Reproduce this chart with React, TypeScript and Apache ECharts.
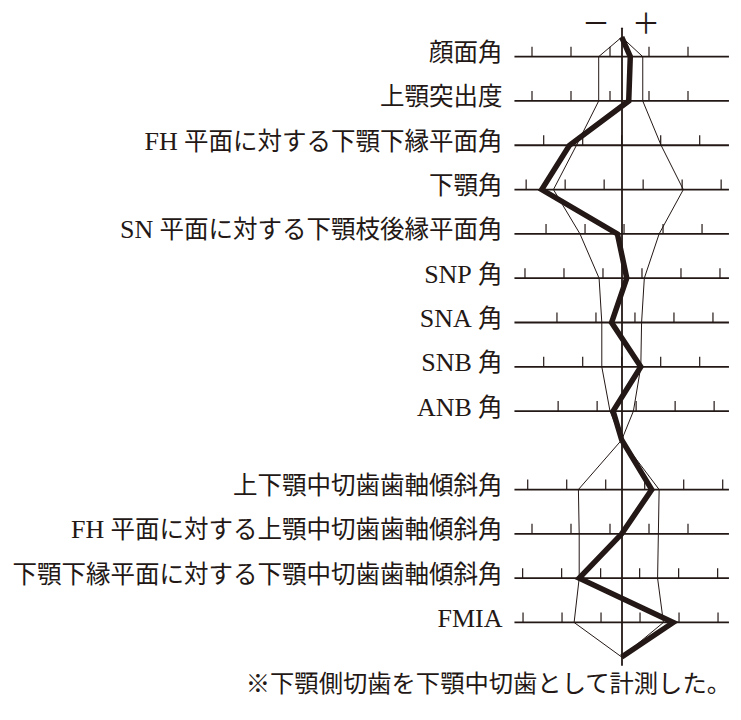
import React, { useEffect, useRef } from "react";
import * as echarts from "echarts";

// row labels, top to bottom
const labels = [
  "顔面角",
  "上顎突出度",
  "FH 平面に対する下顎下縁平面角",
  "下顎角",
  "SN 平面に対する下顎枝後縁平面角",
  "SNP 角",
  "SNA 角",
  "SNB 角",
  "ANB 角",
  "上下顎中切歯歯軸傾斜角",
  "FH 平面に対する上顎中切歯歯軸傾斜角",
  "下顎下縁平面に対する下顎中切歯歯軸傾斜角",
  "FMIA",
];

// row index along the chart (gap between skeletal and dental groups)
const rowPos = [0, 1, 2, 3, 4, 5, 6, 7, 8, 9.77, 10.77, 11.77, 12.77];
// where the polygons meet the centre line: top, between groups, bottom
const apexPos = [-0.44, 8.65, 13.55];

// deviation from the norm (1 tick = 5 units)
const tickPhase = [3.5, 3.5, 0, 2.75, 0.3, 2.6, 1.7, 0, 1.85, 2.95, 3.5, 2.3, 2.35];
const patient = [1.1, 0.9, -6.7, -10.25, -0.55, 0.65, -1.3, 2.45, -1.1, 3.85, 0, -5.45, 6.6];
const normLow = [-2.95, -2.95, -5.8, -8.75, -5.35, -2.9, -2.55, -2.55, -1.5, -5.55, -5.45, -5.45, -6.1];
const normHigh = [2.7, 2.7, 5.05, 7.9, 4.8, 2.9, 2.55, 2.45, 1.5, 4.8, 4.7, 4.6, 5.35];

const note = "※下顎側切歯を下顎中切歯として計測した。";

const X_MIN = -13.75;
const X_MAX = 13.75;
const TICK_LIMIT = 13.05;
const ink = "#231815";
const font = "'Liberation Serif', 'Noto Sans CJK JP', serif";

// polygon through the centre apexes and every row
const toPath = (xs: number[]) => [
  [0, apexPos[0]],
  ...xs.slice(0, 9).map((x, i) => [x, rowPos[i]]),
  [0, apexPos[1]],
  ...xs.slice(9).map((x, i) => [x, rowPos[i + 9]]),
  [0, apexPos[2]],
];

// latin letters a little larger, like the print
const richLabel = (s: string) => s.replace(/([A-Za-z]+)/g, "{lat|$1}");

const App = () => {
  const chartRef = useRef<HTMLDivElement | null>(null);

  useEffect(() => {
    if (!chartRef.current) return;
    const chart = echarts.init(chartRef.current, null, { renderer: "svg" });

    const options = {
      animation: false,
      grid: { left: 514.45, top: 28.3, width: 214.5, height: 636.7 },
      xAxis: { type: "value", min: X_MIN, max: X_MAX, show: false },
      yAxis: {
        type: "value",
        inverse: true,
        min: -0.64,
        max: 13.73,
        axisLabel: { show: false },
        axisTick: { show: false },
        splitLine: { show: false },
        axisLine: { show: true, onZero: true, lineStyle: { color: ink, width: 1.8 } },
      },
      graphic: [
        {
          type: "text",
          x: 596,
          y: 22,
          style: { text: "－", font: `28px 'Noto Sans CJK JP'`, fill: ink, align: "center", verticalAlign: "middle" },
        },
        {
          type: "text",
          x: 646,
          y: 22,
          style: { text: "＋", font: `28px 'Noto Sans CJK JP'`, fill: ink, align: "center", verticalAlign: "middle" },
        },
        {
          type: "text",
          x: 731,
          y: 683,
          style: { text: note, fontSize: 24.3, fontFamily: font, fill: ink, align: "right", verticalAlign: "middle" },
        },
      ],
      series: [
        {
          type: "custom",
          data: rowPos.map((y, i) => [tickPhase[i], y]),
          renderItem: (params: any, api: any) => {
            const phase = api.value(0) as number;
            const y = api.value(1) as number;
            const [x0, py] = api.coord([X_MIN, y]);
            const [x1] = api.coord([X_MAX, y]);
            const children: any[] = [
              {
                type: "line",
                shape: { x1: x0, y1: py, x2: x1, y2: py },
                style: { stroke: ink, lineWidth: 1.8 },
              },
            ];
            for (let k = -4; k <= 4; k++) {
              const v = phase + 5 * k;
              if (Math.abs(v) > TICK_LIMIT) continue;
              const [tx] = api.coord([v, y]);
              children.push({
                type: "line",
                shape: { x1: tx, y1: py, x2: tx, y2: py - 10 },
                style: { stroke: ink, lineWidth: 1.2 },
              });
            }
            children.push({
              type: "text",
              x: x0 - 12,
              y: py - 4,
              style: {
                text: richLabel(labels[params.dataIndex]),
                fontSize: 24.5,
                fontFamily: font,
                fill: ink,
                align: "right",
                verticalAlign: "middle",
                rich: {
                  lat: { fontSize: 26, fontFamily: "'Liberation Serif'", fill: ink },
                },
              },
            });
            return { type: "group", children };
          },
        },
        {
          name: "低",
          type: "line",
          data: toPath(normLow),
          symbol: "none",
          lineStyle: { color: ink, width: 1 },
        },
        {
          name: "高",
          type: "line",
          data: toPath(normHigh),
          symbol: "none",
          lineStyle: { color: ink, width: 1 },
        },
        {
          name: "患者",
          type: "line",
          data: toPath(patient),
          symbol: "none",
          lineStyle: { color: ink, width: 5.5, join: "miter" },
        },
      ],
    };

    chart.setOption(options);
    return () => {
      chart.dispose();
    };
  }, []);

  return (
    <div
      ref={chartRef}
      style={{ position: "absolute", left: 0, top: 0, width: "741px", height: "720px", background: "#fff" }}
    ></div>
  );
};

export default App;
